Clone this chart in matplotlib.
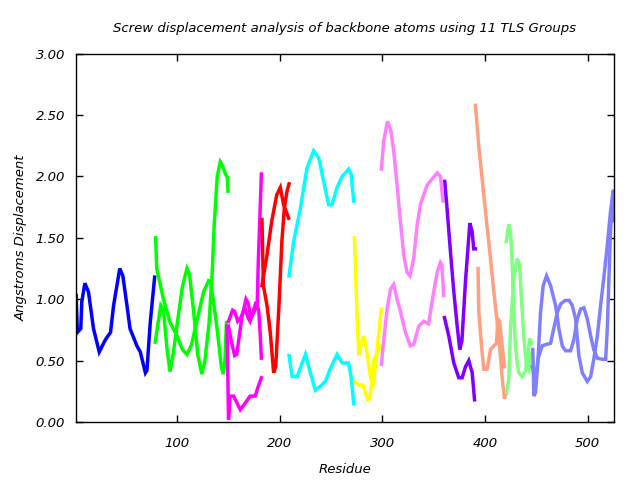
import matplotlib
matplotlib.use('Agg')
import matplotlib.pyplot as plt

# TLS group 1 (blue)
g1_x = [1.5, 2.7, 6, 7, 10, 13.5, 18.4, 24, 30, 35, 38, 44, 47, 51, 54, 60.7, 64, 69, 70.5, 73.7, 78]
g1_y = [1.03, 0.73, 0.76, 0.98, 1.13, 1.06, 0.76, 0.57, 0.67, 0.73, 0.95, 1.25, 1.19, 0.95, 0.76, 0.62, 0.57, 0.40, 0.42, 0.81, 1.18]

# TLS group 2 (green)
g2a_x = [79, 80, 86.6, 93, 100, 105, 109.5, 114, 121, 125.7, 130.5, 132.5, 135, 139, 143, 145, 146.5, 148]
g2a_y = [1.50, 1.25, 1.00, 0.81, 0.70, 0.59, 0.55, 0.63, 0.89, 1.06, 1.15, 1.14, 1.00, 0.75, 0.45, 0.39, 0.50, 0.81]
g2b_x = [78.5, 84, 86.5, 90, 93, 96, 100, 105, 109.5, 112, 116, 120, 124, 127, 131, 134, 136, 139, 142, 143.5, 147, 149, 149.5]
g2b_y = [0.65, 0.95, 0.92, 0.60, 0.41, 0.55, 0.80, 1.10, 1.25, 1.20, 0.90, 0.55, 0.39, 0.50, 0.80, 1.20, 1.60, 2.00, 2.12, 2.10, 2.02, 1.99, 1.88]

# TLS group 3 (magenta)
g3a_x = [148.5, 149.5, 150, 151.5, 155, 161.5, 166, 171, 176, 179, 182]
g3a_y = [0.78, 0.30, 0.02, 0.21, 0.21, 0.10, 0.15, 0.21, 0.21, 0.29, 0.36]
g3b_x = [150, 153, 156, 158, 163, 167, 169, 172, 175, 178, 179, 180.5, 182]
g3b_y = [0.78, 0.65, 0.54, 0.55, 0.85, 1.00, 0.97, 0.85, 0.90, 0.95, 1.30, 1.65, 2.02]
g3c_x = [150, 154, 156, 159, 162, 166, 169, 171, 174, 177, 179.5, 181, 182]
g3c_y = [0.82, 0.91, 0.90, 0.82, 0.85, 0.93, 0.85, 0.82, 0.90, 0.98, 0.90, 0.70, 0.52]

# TLS group 4 (red)
g4a_x = [182.6, 184, 187.5, 190.7, 194, 196, 199, 202, 204.4, 207, 209]
g4a_y = [1.65, 1.11, 0.95, 0.73, 0.40, 0.45, 0.92, 1.47, 1.74, 1.88, 1.94]
g4b_x = [182.6, 187.5, 192, 197, 200.5, 203.7, 208.6]
g4b_y = [1.11, 1.36, 1.63, 1.85, 1.91, 1.77, 1.66]

# TLS group 5 (cyan)
g5a_x = [209, 213.5, 220, 226.5, 233, 238, 242.7, 247.6, 250.8, 255.8, 260.7, 267, 269.5, 272]
g5a_y = [1.19, 1.47, 1.74, 2.07, 2.21, 2.15, 1.96, 1.77, 1.77, 1.91, 2.00, 2.06, 2.02, 1.80]
g5b_x = [209, 212, 217, 221.7, 225, 229.8, 234.6, 239.5, 244.4, 249, 255.8, 260.7, 267, 269.5, 272]
g5b_y = [0.54, 0.37, 0.37, 0.48, 0.55, 0.40, 0.26, 0.29, 0.33, 0.43, 0.55, 0.48, 0.48, 0.37, 0.15]

# TLS group 6 (yellow)
g6a_x = [272.7, 275.3, 277, 280, 282, 285, 288.3, 291, 293, 295.8, 299]
g6a_y = [1.50, 0.87, 0.54, 0.66, 0.70, 0.56, 0.37, 0.29, 0.45, 0.67, 0.92]
g6b_x = [272.7, 277, 281, 285.7, 287.6, 290, 291.7, 294.8, 298]
g6b_y = [0.33, 0.30, 0.30, 0.18, 0.19, 0.35, 0.51, 0.56, 0.62]

# TLS group 7 (pink)
g7a_x = [299, 301.3, 305, 308.3, 311, 314.3, 317.6, 320.8, 324, 326.8, 330.5, 333.8, 337, 343.6, 353.4, 356.6, 359]
g7a_y = [2.06, 2.29, 2.45, 2.37, 2.21, 1.93, 1.63, 1.36, 1.22, 1.19, 1.33, 1.60, 1.77, 1.93, 2.03, 2.00, 1.80]
g7b_x = [299, 301.3, 304.6, 307.8, 311, 314.3, 317.6, 322.4, 327.3, 330.5, 335.4, 340.3, 345, 350, 353.4, 356.6, 358, 359.8]
g7b_y = [0.47, 0.67, 0.92, 1.08, 1.12, 1.00, 0.90, 0.73, 0.62, 0.63, 0.78, 0.82, 0.80, 1.06, 1.22, 1.30, 1.28, 1.03]

# TLS group 8 (purple)
g8a_x = [360.8, 363, 366.3, 369.6, 372.9, 375.4, 377.5, 381, 385.2, 387.5, 389, 390.7]
g8a_y = [1.96, 1.74, 1.39, 1.06, 0.78, 0.59, 0.66, 1.15, 1.62, 1.55, 1.41, 1.41]
g8b_x = [360.5, 364.7, 369.6, 374.4, 377.7, 381, 384.2, 387.5, 389.8]
g8b_y = [0.85, 0.70, 0.48, 0.36, 0.36, 0.45, 0.50, 0.40, 0.18]

# TLS group 9 (salmon)
g9a_x = [390.7, 394, 397.3, 402.2, 405.4, 408.6, 411.9, 415, 416.8, 419, 420]
g9a_y = [2.58, 2.24, 1.97, 1.58, 1.33, 1.06, 0.81, 0.54, 0.35, 0.19, 0.22]
g9b_x = [393.2, 394, 396.3, 398.8, 402, 405.4, 408.6, 411.2, 412.5, 414.4, 416, 419]
g9b_y = [1.25, 0.89, 0.65, 0.43, 0.43, 0.59, 0.62, 0.64, 0.84, 0.82, 0.67, 0.45]

# TLS group 10 (light green)
g10a_x = [420.7, 423.2, 424.9, 426.5, 428, 429.7, 431.4, 433, 436.3, 439.6, 441.8, 443.8, 445.5]
g10a_y = [1.47, 1.61, 1.55, 1.30, 0.89, 0.62, 0.48, 0.40, 0.37, 0.42, 0.56, 0.68, 0.64]
g10b_x = [421, 423.2, 424.9, 428, 431.4, 433.7, 435.3, 438, 440.5, 442.8, 444.5]
g10b_y = [0.24, 0.35, 0.76, 1.17, 1.33, 1.28, 1.03, 0.68, 0.45, 0.42, 0.56]

# TLS group 11 (light blue)
g11a_x = [446.6, 447.6, 449.2, 451.5, 454.1, 456.7, 460, 463.9, 468.8, 472, 475.3, 478.5, 483.4, 486.6, 490, 493.2, 496.4,
          499.7, 503, 506, 509.5, 514.4, 517.6, 519.2, 520.8, 522.4, 524.7, 525]
g11a_y = [0.59, 0.21, 0.24, 0.48, 0.89, 1.11, 1.19, 1.11, 0.95, 0.76, 0.62, 0.58, 0.58, 0.67, 0.84, 0.92, 0.93,
          0.84, 0.70, 0.59, 0.52, 0.51, 0.51, 0.76, 1.17, 1.58, 1.88, 1.64]
g11b_x = [446, 449.2, 451.8, 455.8, 459, 463.9, 467, 470.4, 473.7, 478, 482, 485, 488.3, 491.5, 494.8, 499.7, 503, 506,
          509.5, 512.7, 516, 519.2, 522.4, 525]
g11b_y = [0.45, 0.35, 0.52, 0.62, 0.63, 0.64, 0.76, 0.89, 0.96, 0.99, 0.99, 0.95, 0.84, 0.54, 0.40, 0.33, 0.37, 0.51,
          0.70, 0.95, 1.19, 1.44, 1.72, 1.88]

lines = [
    (g1_x, g1_y, '#0000ff'),
    (g2a_x, g2a_y, '#00ff00'), (g2b_x, g2b_y, '#00ff00'),
    (g3a_x, g3a_y, '#ff00ff'), (g3b_x, g3b_y, '#ff00ff'), (g3c_x, g3c_y, '#ff00ff'),
    (g4a_x, g4a_y, '#ff0000'), (g4b_x, g4b_y, '#ff0000'),
    (g5a_x, g5a_y, '#00ffff'), (g5b_x, g5b_y, '#00ffff'),
    (g6a_x, g6a_y, '#ffff00'), (g6b_x, g6b_y, '#ffff00'),
    (g7a_x, g7a_y, '#ff80ff'), (g7b_x, g7b_y, '#ff80ff'),
    (g8a_x, g8a_y, '#8000ff'), (g8b_x, g8b_y, '#8000ff'),
    (g9a_x, g9a_y, '#ffa080'), (g9b_x, g9b_y, '#ffa080'),
    (g10a_x, g10a_y, '#80ff80'), (g10b_x, g10b_y, '#80ff80'),
    (g11a_x, g11a_y, '#8080ff'), (g11b_x, g11b_y, '#8080ff'),
]

fig = plt.figure(figsize=(6.4, 4.8), dpi=100)
ax = fig.add_axes([0.119, 0.121, 0.840, 0.767])

for x, y, c in lines:
    ax.plot(x, y, color=c, linewidth=2.5, solid_joinstyle='miter')

ax.set_xlim(1.5, 525.5)
ax.set_ylim(0, 3)
ax.set_xticks([100, 200, 300, 400, 500])
ax.set_yticks([0, 0.5, 1.0, 1.5, 2.0, 2.5, 3.0])
ax.set_yticklabels(['%.2f' % v for v in ax.get_yticks()])
ax.tick_params(direction='in', length=5, width=1, top=True, right=True, labelsize=9.5)
ax.tick_params(axis='y', pad=8)
ax.tick_params(axis='x', pad=11)
for lab in ax.get_xticklabels() + ax.get_yticklabels():
    lab.set_fontstyle('italic')
for s in ax.spines.values():
    s.set_linewidth(1.0)

ax.set_title('Screw displacement analysis of backbone atoms using 11 TLS Groups',
             fontsize=9.5, fontstyle='italic', pad=16)
ax.set_xlabel('Residue', fontsize=9.5, fontstyle='italic', labelpad=9)
ax.set_ylabel('Angstroms Displacement', fontsize=9.5, fontstyle='italic', labelpad=6)

fig.savefig('out.png', dpi=100)
